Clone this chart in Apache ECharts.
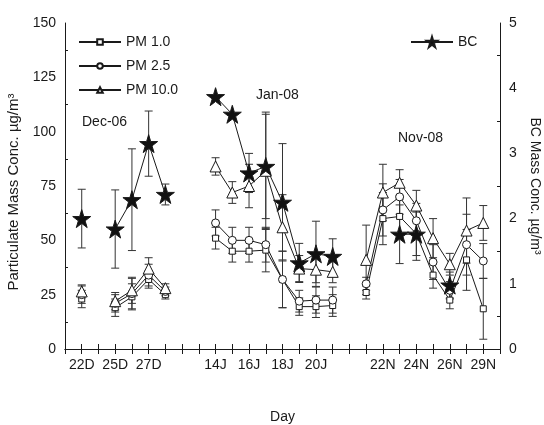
<!DOCTYPE html>
<html>
<head>
<meta charset="utf-8">
<script src="https://cdn.jsdelivr.net/npm/echarts@6/dist/echarts.min.js"></script>
<style>
  html, body { margin: 0; padding: 0; background: #fff; }
  #myChart { width: 544px; height: 425px; }
</style>
</head>
<body>
<div id="myChart"></div>
<script>
// slot labels along the day axis (empty slots keep the spacing)
var days = ['', '22D', '', '25D', '', '27D', '', '', '', '14J', '', '16J', '', '18J', '', '20J', '', '', '',
	'22N', '', '24N', '', '26N', '', '29N', ''];

var pm1 = [null, 23, null, 19, 24, 32, 25, null, null, 51, 45, 45, 45.5, 32, 19.5, 19.5, 20, null,
	26, 60, 61, 53, 34, 22.5, 41, 18.5, null];
var pm25 = [null, 25, null, 21, 25.5, 34, 26.5, null, null, 58, 50, 50, 48, 32, 22, 22.5, 22.5, null,
	30, 64, 70, 59, 40, 27, 48, 40.5, null];
var pm10 = [null, 26.5, null, 22, 27, 37, 28, null, null, 84, 72, 75, 82, 56, 37, 36.5, 35.5, null,
	41, 72, 76.5, 66, 51, 39, 54.5, 58, null];
var bc = [null, 2.0, null, 1.84, 2.29, 3.15, 2.37, null, null, 3.87, 3.6, 2.7, 2.8, 2.25, 1.32, 1.46, 1.42, null,
	null, null, 1.76, 1.76, null, 0.98, null, null, null];

// error half-widths
var pm1Err = [0, 4, 0, 4, 6, 4, 2, 0, 0, 5, 5, 5, 10, 13, 4, 5, 5, 0, 3, 12, 8, 10, 6, 4, 14, 14, 0];
var pm25Err = [0, 4, 0, 4, 7, 5, 2, 0, 0, 6, 6, 6, 8, 13, 5, 6, 6, 0, 3, 12, 8, 8, 8, 4, 14, 8, 0];
var pm10Err = [0, 3, 0, 4, 6, 5, 2, 0, 0, 4, 5, 10, 27, 15, 6, 6, 5, 0, 16, 13, 6, 7, 9, 5, 15, 8, 0];
var bcErr = [0, 0.45, 0, 0.6, 0.78, 0.5, 0.16, 0, 0, 0, 0, 0.3, 0.8, 0.9, 0.3, 0.5, 0.27, 0, 0, 0, 0.45, 0.4, 0, 0.2, 0, 0, 0];

var starPath = 'path://M50,0 L61,35 L98,35 L68,57 L79,91 L50,70 L21,91 L32,57 L2,35 L39,35 Z';
var font = "'Liberation Sans', Arial, sans-serif";
var ink = '#1a1a1a';

function errData(vals, errs) {
	var out = [];
	for (var i = 0; i < vals.length; i++) {
		if (vals[i] != null && errs[i] > 0) {
			out.push([i, vals[i] - errs[i], vals[i] + errs[i]]);
		}
	}
	return out;
}

function errRender(params, api) {
	var x = api.value(0);
	var lo = api.coord([x, api.value(1)]);
	var hi = api.coord([x, api.value(2)]);
	var w = 4;
	var st = { stroke: '#333', lineWidth: 1 };
	return {
		type: 'group',
		children: [
			{ type: 'line', shape: { x1: lo[0], y1: lo[1], x2: hi[0], y2: hi[1] }, style: st },
			{ type: 'line', shape: { x1: lo[0] - w, y1: lo[1], x2: lo[0] + w, y2: lo[1] }, style: st },
			{ type: 'line', shape: { x1: hi[0] - w, y1: hi[1], x2: hi[0] + w, y2: hi[1] }, style: st }
		]
	};
}

function errSeries(vals, errs, yIdx) {
	return {
		type: 'custom',
		yAxisIndex: yIdx,
		renderItem: errRender,
		data: errData(vals, errs),
		z: 1,
		silent: true,
		animation: false
	};
}

function lineSeries(name, vals, symbol, size, yIdx, fill) {
	return {
		name: name,
		type: 'line',
		yAxisIndex: yIdx,
		data: vals,
		symbol: symbol,
		symbolSize: size,
		showAllSymbol: true,
		connectNulls: false,
		lineStyle: { color: ink, width: 1 },
		itemStyle: { color: fill, borderColor: ink, borderWidth: 1 },
		z: 3,
		animation: false
	};
}

var tickStyle = { inside: true, length: 5, lineStyle: { color: ink } };

var option = {
	backgroundColor: '#fff',
	textStyle: { fontFamily: font },
	grid: { left: 65, right: 44, top: 23, bottom: 76, outerBoundsMode: 'none' },
	legend: [
		{
			data: ['PM 1.0', 'PM 2.5', 'PM 10.0'],
			orient: 'vertical',
			left: 78,
			top: 35,
			padding: 0,
			itemWidth: 42,
			itemHeight: 7,
			itemGap: 10,
			textStyle: { fontSize: 14, color: ink, fontFamily: font }
		},
		{
			data: ['BC'],
			left: 410,
			top: 35,
			padding: 0,
			itemWidth: 42,
			itemHeight: 13,
			textStyle: { fontSize: 14, color: ink, fontFamily: font }
		}
	],
	xAxis: [
		{
			type: 'category',
			data: days,
			boundaryGap: false,
			name: 'Day',
			nameLocation: 'middle',
			nameGap: 61,
			nameTextStyle: { fontSize: 14, color: ink },
			axisLine: { lineStyle: { color: ink } },
			axisTick: { inside: true, length: 5, interval: 0, lineStyle: { color: ink } },
			axisLabel: { interval: 0, fontSize: 14, color: ink, margin: 9 },
			splitLine: { show: false }
		},
		{
			type: 'category',
			data: days,
			boundaryGap: false,
			position: 'top',
			axisLine: { lineStyle: { color: ink } },
			axisTick: { inside: true, length: 5, interval: 0, lineStyle: { color: ink } },
			axisLabel: { show: false },
			splitLine: { show: false }
		}
	],
	yAxis: [
		{
			type: 'value',
			min: 0,
			max: 150,
			interval: 25,
			name: 'Particulate Mass Conc. µg/m³',
			nameLocation: 'middle',
			nameGap: 43,
			nameTextStyle: { fontSize: 15, color: ink, padding: [0, 0, 0, -12] },
			axisLine: { show: true, lineStyle: { color: ink } },
			axisTick: tickStyle,
			minorTick: { show: true, splitNumber: 2, length: 3, lineStyle: { color: ink } },
			axisLabel: { fontSize: 14, color: ink, margin: 9 },
			splitLine: { show: false }
		},
		{
			type: 'value',
			min: 0,
			max: 5,
			interval: 1,
			position: 'right',
			name: 'BC Mass Conc. µg/m³',
			nameLocation: 'middle',
			nameGap: 21,
			nameRotate: -90,
			nameTextStyle: { fontSize: 14, color: ink },
			axisLine: { show: true, lineStyle: { color: ink } },
			axisTick: tickStyle,
			minorTick: { show: true, splitNumber: 2, length: 3, lineStyle: { color: ink } },
			axisLabel: { fontSize: 14, color: ink, margin: 9 },
			splitLine: { show: false }
		}
	],
	graphic: [
		{ type: 'text', left: 82, top: 115, style: { text: 'Dec-06', font: '14px ' + font, fill: ink } },
		{ type: 'text', left: 256, top: 88, style: { text: 'Jan-08', font: '14px ' + font, fill: ink } },
		{ type: 'text', left: 398, top: 131, style: { text: 'Nov-08', font: '14px ' + font, fill: ink } }
	],
	series: [
		errSeries(pm1, pm1Err, 0),
		errSeries(pm25, pm25Err, 0),
		errSeries(pm10, pm10Err, 0),
		errSeries(bc, bcErr, 1),
		lineSeries('PM 1.0', pm1, 'rect', 6, 0, '#fff'),
		lineSeries('PM 2.5', pm25, 'circle', 8, 0, '#fff'),
		lineSeries('PM 10.0', pm10, 'triangle', 11, 0, '#fff'),
		lineSeries('BC', bc, starPath, 18, 1, '#111')
	]
};

var myChart = echarts.init(document.getElementById('myChart'));
myChart.setOption(option);
</script>
</body>
</html>
